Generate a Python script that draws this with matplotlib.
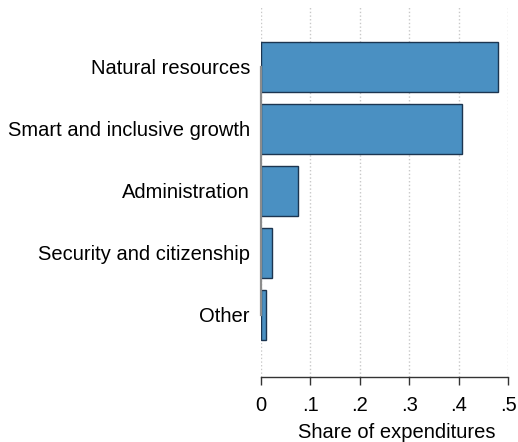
import numpy as np
import matplotlib.pyplot as plt

plt.rcParams['font.family'] = 'sans-serif'
plt.rcParams['font.sans-serif'] = ['Liberation Sans', 'DejaVu Sans']

categories = ['Natural resources', 'Smart and inclusive growth', 'Administration',
              'Security and citizenship', 'Other']
shares = [0.480, 0.407, 0.075, 0.023, 0.011]
xticks = [0, 0.1, 0.2, 0.3, 0.4, 0.5]
xticklabels = ['0', '.1', '.2', '.3', '.4', '.5']

fig = plt.figure(figsize=(5.18, 4.42), dpi=100)
ax = fig.add_axes([261 / 518, 1 - 377 / 442, 247 / 518, 371 / 442])

y = np.arange(len(categories))
ax.barh(y, shares, height=0.8, color='#4a90c2', edgecolor='#1c3550', linewidth=1.0, zorder=3)

ax.set_xlim(0, 0.5)
ax.set_ylim(5.0, -0.98)
ax.set_xticks(xticks)
ax.set_xticklabels(xticklabels, fontsize=14.5)
ax.set_yticks(y)
ax.set_yticklabels(categories, fontsize=14.5, va='center_baseline')
ax.set_xlabel('Share of expenditures', fontsize=14.5)
ax.xaxis.set_label_coords(0.55, -0.125)

ax.grid(axis='x', linestyle=':', color='#c8c8c8', linewidth=1.0, zorder=0)

for s in ['top', 'right']:
    ax.spines[s].set_visible(False)
ax.spines['left'].set_bounds(0, 4)
ax.spines['left'].set_color('#8c8c8c')
ax.spines['left'].set_linewidth(1.6)
ax.spines['left'].set_zorder(4)
ax.spines['bottom'].set_color('#333333')
ax.spines['bottom'].set_linewidth(1.0)

ax.tick_params(axis='y', length=0, pad=8)
ax.tick_params(axis='x', length=6, width=1.0, color='#333333', direction='out', pad=8)

fig.savefig('out.png', dpi=100)
